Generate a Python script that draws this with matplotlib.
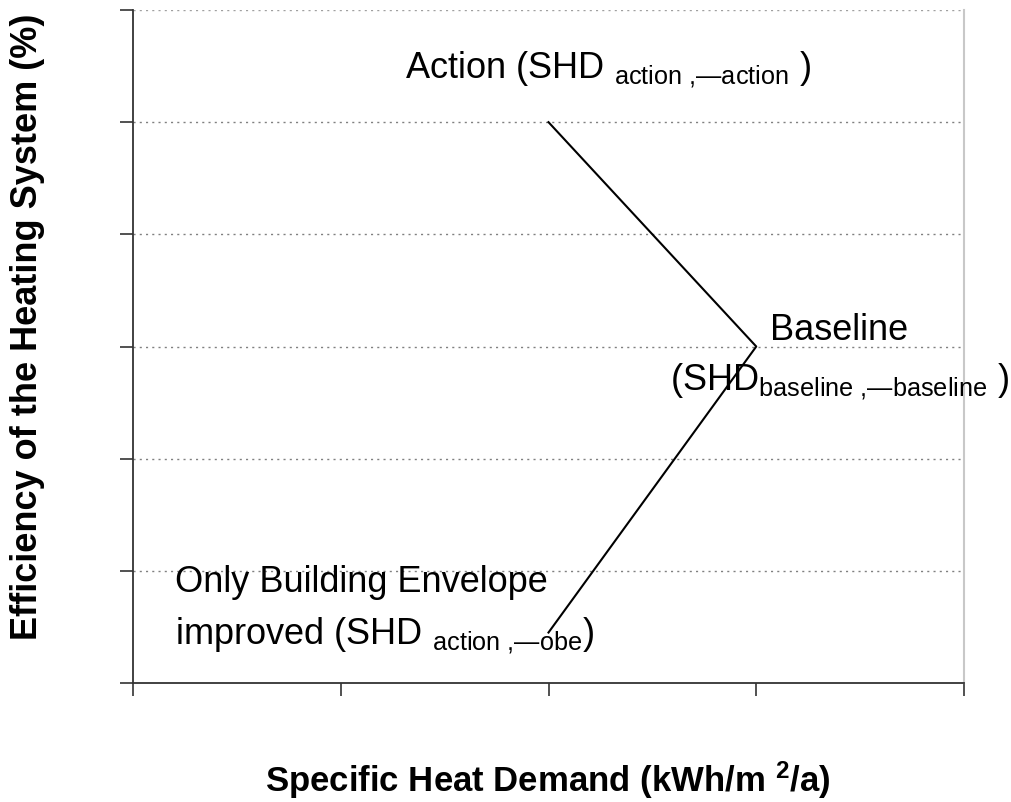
import matplotlib
matplotlib.use("Agg")
import matplotlib.pyplot as plt

plt.rcParams['font.family'] = ['Liberation Sans', 'DejaVu Sans']
plt.rcParams['mathtext.fontset'] = 'custom'
plt.rcParams['mathtext.rm'] = 'Liberation Sans'
plt.rcParams['mathtext.it'] = 'Liberation Sans'
plt.rcParams['mathtext.bf'] = 'Liberation Sans:bold'

# Data
shd = [2, 3, 2]              # Specific heat demand (arbitrary units)
eff = [5, 3, 0.45]           # Efficiency (arbitrary units)
x_ticks = [0, 1, 2, 3, 4]
y_ticks = [0, 1, 2, 3, 4, 5, 6]

fig = plt.figure(figsize=(10.11, 8.02), dpi=100)
ax = fig.add_axes([133/1011, 1 - 683/802, (964-133)/1011, (683-10)/802])
ax.set_xlim(0, 4)
ax.set_ylim(0, 6)

for yv in y_ticks[1:]:
    ax.axhline(yv, color='#808080' if yv < 6 else '#a0a0a0', lw=1.0,
               linestyle=(0, (1.5, 3)), zorder=1)

ax.plot(shd, eff, color='black', lw=1.5, zorder=3)

ax.set_xticks(x_ticks)
ax.set_yticks(y_ticks)
ax.set_xticklabels([])
ax.set_yticklabels([])
ax.tick_params(direction='out', length=9.5, width=1.2, color='#333333')
ax.spines['top'].set_visible(False)
ax.spines['right'].set_color('#c8c8c8')
ax.spines['right'].set_linewidth(1.5)
ax.spines['left'].set_color('#333333')
ax.spines['bottom'].set_color('#333333')
ax.spines['left'].set_linewidth(1.3)
ax.spines['bottom'].set_linewidth(1.3)

fs = 26
ax.text(1.31, 5.39, r"Action (SHD ${}_{\mathrm{action}\ {,}—\mathrm{action}}$ )",
        fontsize=fs, ha='left', va='baseline')
ax.text(3.40, 3.06, "Baseline", fontsize=fs, ha='center', va='baseline')
ax.text(3.40, 2.61, r"(SHD${}_{\mathrm{baseline}\ {,}—\mathrm{baseline}}$ )",
        fontsize=fs, ha='center', va='baseline')
ax.text(0.20, 0.81, "Only Building Envelope", fontsize=fs, ha='left', va='baseline')
ax.text(0.20, 0.34, r"improved (SHD ${}_{\mathrm{action}\ {,}—\mathrm{obe}}$)",
        fontsize=fs, ha='left', va='baseline')

fig.text(28/1011, 1 - 327/802, "Efficiency of the Heating System (%)",
         rotation=90, ha='center', va='center', fontsize=26, fontweight='bold')
fig.text(548/1011, 1 - 792/802, r"Specific Heat Demand (kWh/m ${}^{\mathbf{2}}$/a)",
         ha='center', va='baseline', fontsize=25, fontweight='bold')

fig.savefig("out.png", dpi=100)
